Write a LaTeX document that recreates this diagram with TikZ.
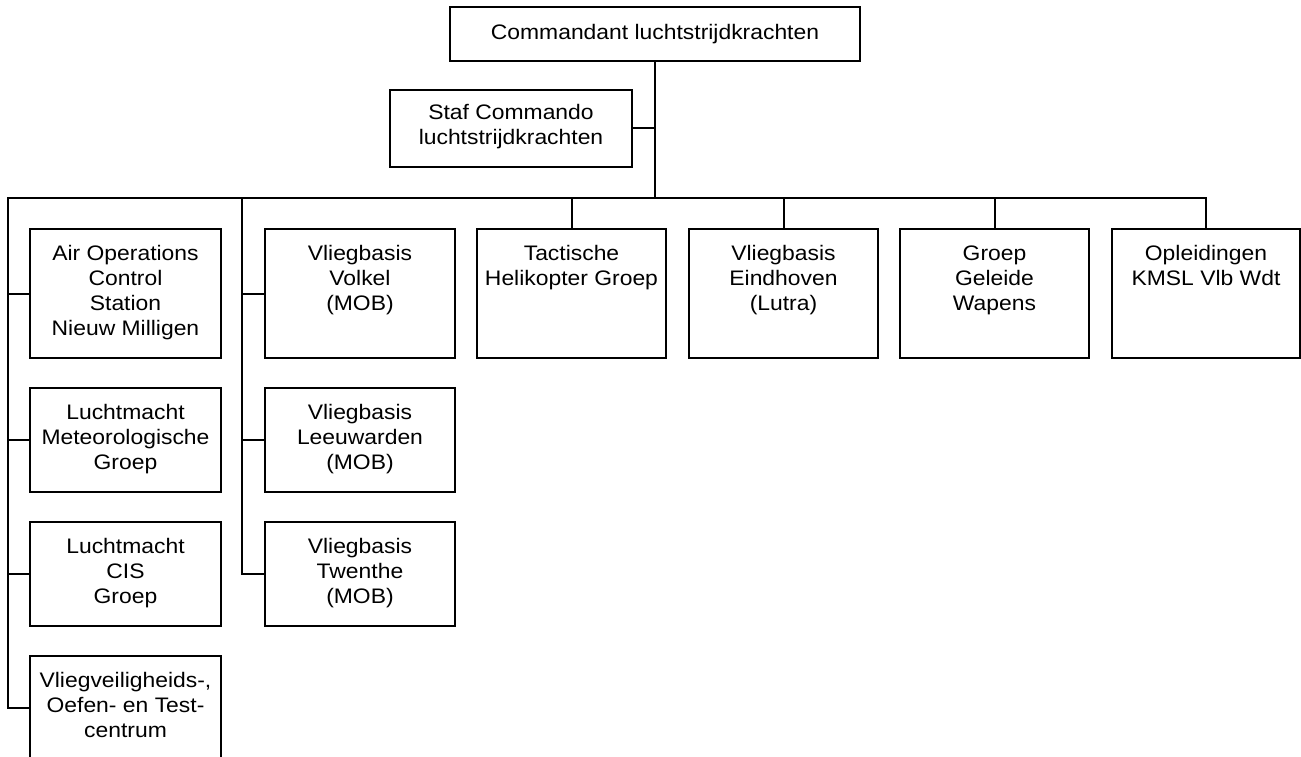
\documentclass[tikz,border=0pt]{standalone}
\usepackage{fontspec}
\setmainfont{Liberation Sans}[FakeStretch=1.09]
\newcommand\unittext[3]{\parbox[c][#2][t]{#1}{\centering\rule{0pt}{31pt}#3}}
\begin{document}
\begin{tikzpicture}[x=1pt,y=-1pt,
  font=\fontsize{21}{25}\selectfont,
  unit/.style={draw, line width=2pt, inner sep=0pt, anchor=north west},
  link/.style={line width=2pt, line cap=rect}]
\useasboundingbox (0,0) rectangle (1301,757);
\begin{scope}
\clip (0,0) rectangle (1301,757);
% top
\node[unit, minimum width=410pt, minimum height=54pt] (top) at (449,6) {Commandant luchtstrijdkrachten};
\node[unit] (staf) at (389,89) {\parbox[c][77pt][t]{242pt}{\centering\rule{0pt}{30pt}Staf Commando\\luchtstrijdkrachten}};
% column A
\node[unit] (aoc) at (29,228) {\unittext{191pt}{129pt}{Air Operations\\Control\\Station\\Nieuw Milligen}};
\node[unit] (met) at (29,387) {\unittext{191pt}{104pt}{Luchtmacht\\Meteorologische\\Groep}};
\node[unit] (cis) at (29,521) {\unittext{191pt}{104pt}{Luchtmacht\\CIS\\Groep}};
\node[unit] (vot) at (29,655) {\unittext{191pt}{104pt}{Vliegveiligheids-,\\Oefen- en Test-\\centrum}};
% column B
\node[unit] (vol) at (264,228) {\unittext{190pt}{129pt}{Vliegbasis\\Volkel\\(MOB)}};
\node[unit] (lee) at (264,387) {\unittext{190pt}{104pt}{Vliegbasis\\Leeuwarden\\(MOB)}};
\node[unit] (twe) at (264,521) {\unittext{190pt}{104pt}{Vliegbasis\\Twenthe\\(MOB)}};
% others
\node[unit] (thg) at (476,228) {\unittext{189pt}{129pt}{Tactische\\Helikopter Groep}};
\node[unit] (ehv) at (688,228) {\unittext{189pt}{129pt}{Vliegbasis\\Eindhoven\\(Lutra)}};
\node[unit] (ggw) at (899,228) {\unittext{189pt}{129pt}{Groep\\Geleide\\Wapens}};
\node[unit] (opl) at (1111,228) {\unittext{188pt}{129pt}{Opleidingen\\KMSL Vlb Wdt}};
% connectors
\coordinate (spineA) at (8,198);
\coordinate (spineB) at (242,198);
\coordinate (bus) at (top.south |- spineA);
\coordinate (busR) at (opl.north |- spineA);
\draw[link] (top.south) -- (bus);
\draw[link] (staf.east) -- (staf.east -| bus);
\draw[link] (spineA) -- (busR);
\draw[link] (spineA) |- (vot.west);
\draw[link] (spineA |- aoc.west) -- (aoc.west);
\draw[link] (spineA |- met.west) -- (met.west);
\draw[link] (spineA |- cis.west) -- (cis.west);
\draw[link] (spineB) |- (twe.west);
\draw[link] (spineB |- vol.west) -- (vol.west);
\draw[link] (spineB |- lee.west) -- (lee.west);
\draw[link] (thg.north |- spineA) -- (thg.north);
\draw[link] (ehv.north |- spineA) -- (ehv.north);
\draw[link] (ggw.north |- spineA) -- (ggw.north);
\draw[link] (busR) -- (opl.north);
\end{scope}
\end{tikzpicture}
\end{document}
